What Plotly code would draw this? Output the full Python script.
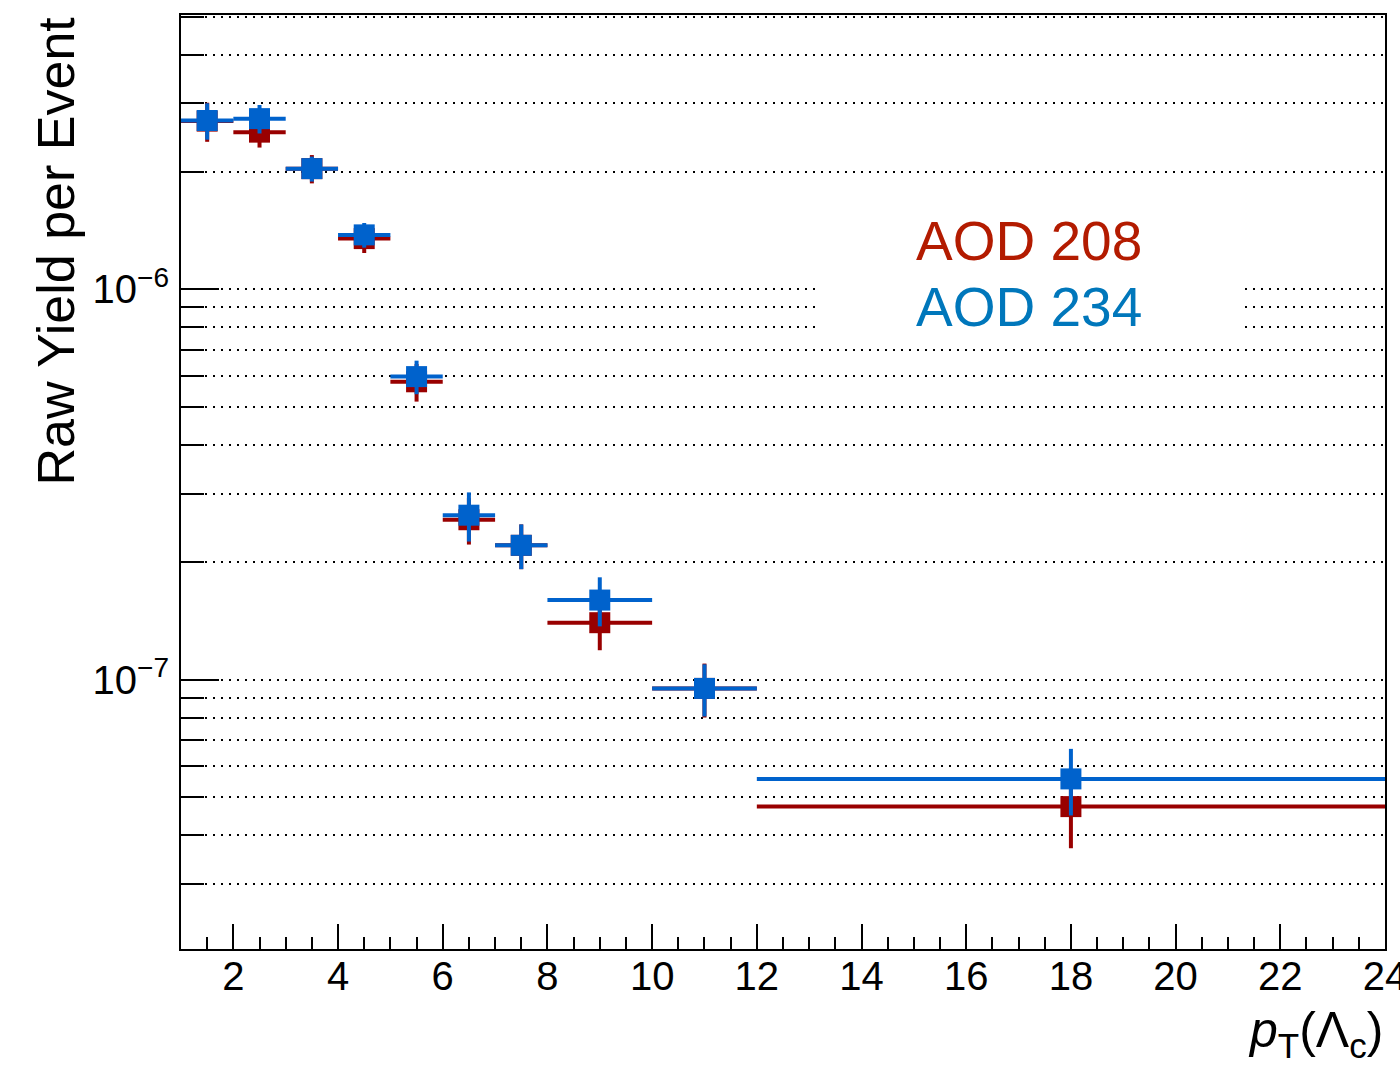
import plotly.graph_objects as go

# pT bins of the Lambda_c measurement
pt_center = [1.5, 2.5, 3.5, 4.5, 5.5, 6.5, 7.5, 9.0, 11.0, 18.0]
pt_halfwidth = [0.5, 0.5, 0.5, 0.5, 0.5, 0.5, 0.5, 1.0, 1.0, 6.0]

# raw yield per event, two reconstruction passes
yield_208 = [2.70e-6, 2.53e-6, 2.04e-6, 1.35e-6, 5.80e-7, 2.57e-7, 2.21e-7, 1.40e-7, 9.5e-8, 4.73e-8]
err_208 = [0.31e-6, 0.22e-6, 0.17e-6, 0.11e-6, 6.4e-8, 3.5e-8, 2.9e-8, 2.1e-8, 1.5e-8, 1.03e-8]
yield_234 = [2.71e-6, 2.74e-6, 2.04e-6, 1.38e-6, 5.98e-7, 2.64e-7, 2.21e-7, 1.60e-7, 9.5e-8, 5.57e-8]
err_234 = [0.29e-6, 0.23e-6, 0.15e-6, 0.10e-6, 5.9e-8, 3.8e-8, 2.9e-8, 2.3e-8, 1.45e-8, 1.08e-8]

labels = ["AOD 208", "AOD 234"]
marker_colors = ["#990000", "#0062cc"]
text_colors = ["#b31b00", "#0077bb"]

y_major = [1e-7, 1e-6]
y_major_text = ["10<sup>\u22127</sup>", "10<sup>\u22126</sup>"]
y_minor = [m * 10.0 ** e for e in (-8, -7, -6) for m in range(2, 10) if 2.0e-8 <= m * 10.0 ** e <= 5.0e-6]

FONT = "Liberation Sans, Arial, Helvetica, sans-serif"

# plot-area geometry in pixels
L, R, T, B = 181, 1385, 15, 949
W, H = R - L, B - T


def px_x(px):
    return (px - L) / W


def px_y(py):
    return (B - py) / H


fig = go.Figure()
for ys, es, col in ((yield_208, err_208, marker_colors[0]), (yield_234, err_234, marker_colors[1])):
    fig.add_trace(go.Scatter(
        x=pt_center, y=ys, mode="markers",
        marker=dict(symbol="square", size=21, color=col, line=dict(width=0)),
        error_x=dict(type="data", array=pt_halfwidth, visible=True, color=col, thickness=4, width=0),
        error_y=dict(type="data", array=es, visible=True, color=col, thickness=4, width=0),
        showlegend=False, cliponaxis=True,
    ))

fig.update_layout(
    width=1400, height=1086,
    margin=dict(l=L, r=1400 - R, t=T, b=1086 - B, autoexpand=False),
    paper_bgcolor="white", plot_bgcolor="white",
    font=dict(family=FONT, color="black", size=40),
)

fig.update_xaxes(
    range=[1, 24], showline=True, linecolor="black", linewidth=2, mirror=True,
    automargin=False,
    ticks="inside", tickmode="array", tickvals=list(range(2, 25, 2)),
    ticklen=25, tickwidth=2, tickcolor="black",
    tickfont=dict(size=40), ticklabelstandoff=-9, ticklabeloverflow="allow",
    showgrid=False, zeroline=False,
    minor=dict(ticks="inside", tickmode="linear", tick0=1, dtick=0.5, ticklen=12, tickwidth=2,
               tickcolor="black", showgrid=False),
)

fig.update_yaxes(
    type="log", range=[-7.690, -5.2967],
    showline=True, linecolor="black", linewidth=2, mirror=True,
    automargin=False,
    ticks="inside", tickmode="array", tickvals=y_major, ticktext=y_major_text,
    ticklen=38, tickwidth=2, tickcolor="black",
    tickfont=dict(size=40), ticklabelstandoff=2,
    showgrid=True, gridcolor="black", gridwidth=2, griddash="2px,6px",
    zeroline=False,
    minor=dict(ticks="inside", tickmode="array", tickvals=y_minor, ticklen=23, tickwidth=2,
               tickcolor="black", showgrid=True, gridcolor="black", gridwidth=2,
               griddash="2px,6px"),
)

# legend block: white box with coloured text
fig.add_shape(type="rect", xref="paper", yref="paper",
              x0=px_x(820), x1=px_x(1240), y0=px_y(340), y1=px_y(185),
              fillcolor="white", line=dict(width=0), layer="above")
for i, (lab, col) in enumerate(zip(labels, text_colors)):
    fig.add_annotation(x=px_x(914), y=px_y(241 + 66 * i), xref="paper", yref="paper",
                       text=lab, showarrow=False, font=dict(size=55, color=col, family=FONT),
                       xanchor="left", yanchor="middle")

fig.add_annotation(
    xref="paper", yref="paper", x=px_x(55), y=1.0, text="Raw Yield per Event",
    textangle=-90, showarrow=False, xanchor="center", yanchor="top",
    font=dict(size=52, family=FONT, color="black"),
)
fig.add_annotation(
    xref="paper", yref="paper", x=1.0, y=px_y(1000),
    text="<i>p</i><sub>T</sub>(\u039b<sub>c</sub>)",
    showarrow=False, xanchor="right", yanchor="top",
    font=dict(size=50, family=FONT, color="black"),
)

fig.write_html("out.html")
